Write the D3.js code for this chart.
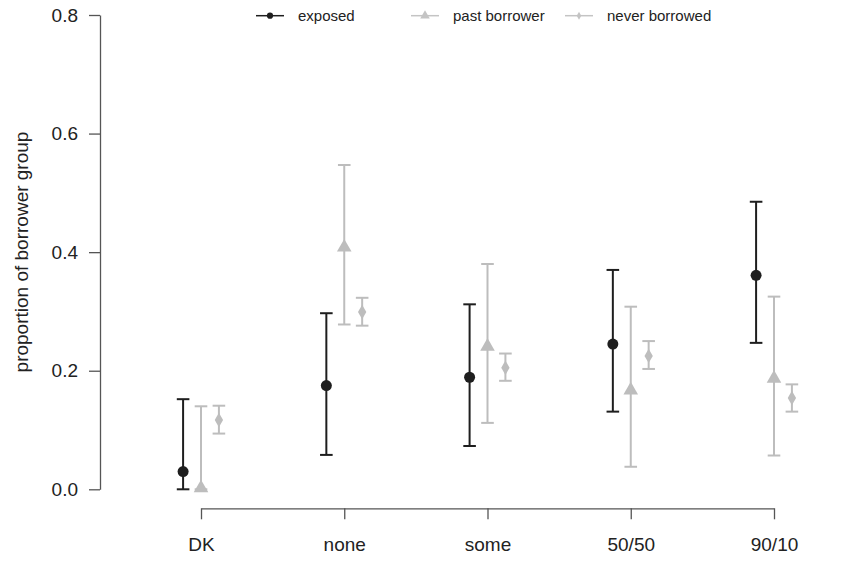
<!DOCTYPE html>
<html>
<head>
<meta charset="utf-8">
<script src="https://cdn.jsdelivr.net/npm/d3@7"></script>
<style>
  html, body { margin: 0; padding: 0; background: #fff; }
  svg { display: block; font-family: "Liberation Sans", Arial, Helvetica, sans-serif; }
</style>
</head>
<body>
<svg id="chart" width="866" height="573"></svg>
<script>
// ---- data ----
const categories = ["DK", "none", "some", "50/50", "90/10"];
const seriesNames = ["exposed", "past borrower", "never borrowed"];
const exposedMean = [0.030, 0.175, 0.189, 0.245, 0.361];
const exposedLow  = [0.000, 0.058, 0.073, 0.131, 0.247];
const exposedHigh = [0.152, 0.297, 0.312, 0.370, 0.485];
const pastMean = [0.002, 0.408, 0.241, 0.167, 0.187];
const pastLow  = [0.000, 0.278, 0.112, 0.038, 0.057];
const pastHigh = [0.140, 0.547, 0.380, 0.308, 0.325];
const neverMean = [0.117, 0.299, 0.205, 0.225, 0.154];
const neverLow  = [0.094, 0.276, 0.183, 0.203, 0.131];
const neverHigh = [0.141, 0.323, 0.229, 0.250, 0.177];
const yTicks = [0.0, 0.2, 0.4, 0.6, 0.8];
const yLabel = "proportion of borrower group";

// ---- styling ----
const series = [
  { name: seriesNames[0], mean: exposedMean, low: exposedLow, high: exposedHigh, color: "#1e1e1e", dodge: -0.125, shape: "circle" },
  { name: seriesNames[1], mean: pastMean, low: pastLow, high: pastHigh, color: "#bdbdbd", dodge: 0, shape: "triangle" },
  { name: seriesNames[2], mean: neverMean, low: neverLow, high: neverHigh, color: "#bdbdbd", dodge: 0.125, shape: "diamond" }
];

const svg = d3.select("#chart");

const x = d3.scalePoint().domain(categories).range([201, 774]).padding(0);
const y = d3.scaleLinear().domain([0, 0.8]).range([489.3, 15]);
const step = x.step();

// axes
const yAxis = d3.axisLeft(y).tickValues(yTicks).tickFormat(d3.format(".1f")).tickSize(11).tickSizeOuter(0).tickPadding(11);
const gy = svg.append("g").attr("transform", "translate(100,0)").call(yAxis);
gy.selectAll("path, line").attr("stroke", "#555").attr("stroke-width", 1.3);
gy.selectAll("text").attr("font-size", 19).attr("fill", "#222");

const xAxis = d3.axisBottom(x).tickSize(11).tickSizeOuter(0).tickPadding(18);
const gx = svg.append("g").attr("transform", "translate(0,508.3)").call(xAxis);
gx.selectAll("path, line").attr("stroke", "#555").attr("stroke-width", 1.3);
gx.selectAll("text").attr("font-size", 19).attr("fill", "#222");

svg.append("text")
  .attr("transform", "translate(27.5,252) rotate(-90)")
  .attr("text-anchor", "middle")
  .attr("font-size", 19)
  .attr("fill", "#222")
  .text(yLabel);

// symbols
const symbolFor = (shape, size) => {
  const t = shape === "circle" ? d3.symbolCircle : shape === "triangle" ? d3.symbolTriangle : d3.symbolDiamond;
  return d3.symbol().type(t).size(size)();
};

const capHalf = 6.3;
series.forEach(s => {
  const g = svg.append("g");
  categories.forEach((c, i) => {
    const cx = x(c) + s.dodge * step;
    g.append("line")
      .attr("x1", cx).attr("x2", cx)
      .attr("y1", y(s.low[i])).attr("y2", y(s.high[i]))
      .attr("stroke", s.color).attr("stroke-width", 2);
    [s.low[i], s.high[i]].forEach(v => {
      g.append("line")
        .attr("x1", cx - capHalf).attr("x2", cx + capHalf)
        .attr("y1", y(v)).attr("y2", y(v))
        .attr("stroke", s.color).attr("stroke-width", 2);
    });
    const size = s.shape === "circle" ? 95 : s.shape === "triangle" ? 92 : 60;
    g.append("path")
      .attr("d", symbolFor(s.shape, size))
      .attr("transform", `translate(${cx},${y(s.mean[i])})`)
      .attr("fill", s.color);
  });
});

// legend
const legendX = [256, 411, 565];
const legendY = 15.7;
series.forEach((s, k) => {
  const lx = legendX[k];
  const lg = svg.append("g");
  lg.append("line")
    .attr("x1", lx).attr("x2", lx + 28)
    .attr("y1", legendY).attr("y2", legendY)
    .attr("stroke", k === 0 ? "#1e1e1e" : "#c4c4c4").attr("stroke-width", 1.5);
  const size = s.shape === "circle" ? 30 : s.shape === "triangle" ? 40 : 18;
  lg.append("path")
    .attr("d", symbolFor(s.shape, size))
    .attr("transform", `translate(${lx + 14},${legendY})`)
    .attr("fill", k === 0 ? "#1e1e1e" : "#c4c4c4");
  lg.append("text")
    .attr("x", lx + 42).attr("y", legendY + 5)
    .attr("font-size", 15)
    .attr("fill", "#222")
    .text(s.name);
});
</script>
</body>
</html>
